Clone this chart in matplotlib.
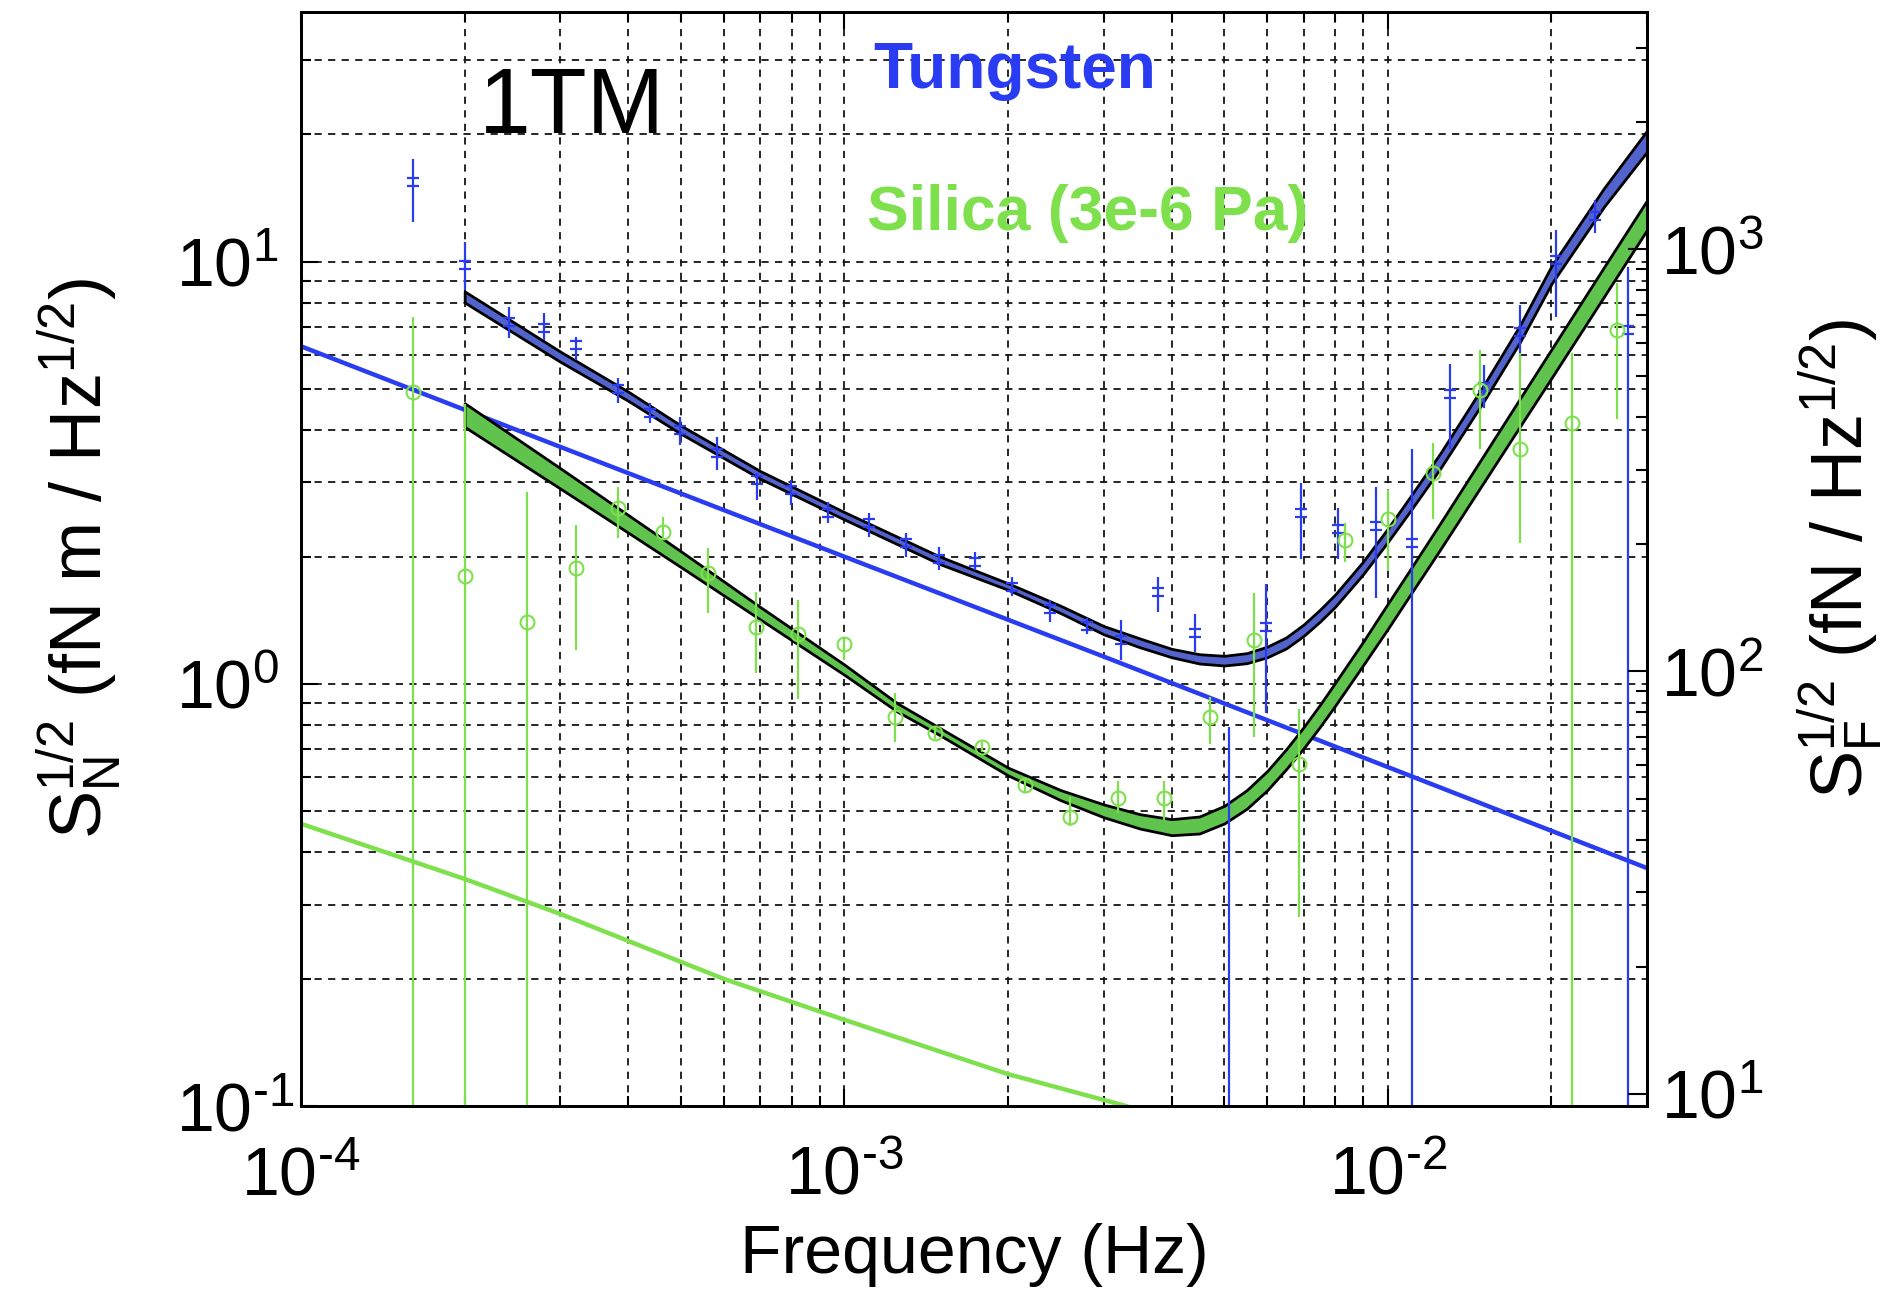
import numpy as np
import matplotlib
matplotlib.use('Agg')
import matplotlib.pyplot as plt
from matplotlib.path import Path
from matplotlib.ticker import LogLocator, NullFormatter, FixedLocator, FuncFormatter

plt.rcParams['font.family'] = ['Liberation Sans', 'DejaVu Sans']
plt.rcParams['mathtext.fontset'] = 'custom'
plt.rcParams['mathtext.rm'] = 'Liberation Sans'
plt.rcParams['mathtext.it'] = 'Liberation Sans:italic'
plt.rcParams['mathtext.bf'] = 'Liberation Sans:bold'
plt.rcParams['axes.unicode_minus'] = False

# ---- model bands (torque noise, fN m / Hz^1/2) ----
tung_f = [2e-4, 3e-4, 4e-4, 5e-4, 7e-4, 1e-3, 1.5e-3, 2e-3, 2.5e-3, 3e-3,
          3.5e-3, 4e-3, 4.5e-3, 5e-3, 5.5e-3, 6e-3, 6.5e-3, 7e-3, 7.5e-3, 8e-3,
          9e-3, 1e-2, 1.1e-2, 1.25e-2, 1.5e-2, 1.75e-2, 2e-2, 2.5e-2, 3e-2]
tung_hi = [8.50, 6.12, 4.92, 4.09, 3.19, 2.55, 2.0, 1.73, 1.53, 1.37,
           1.28, 1.21, 1.175, 1.165, 1.182, 1.225, 1.288, 1.382, 1.498, 1.628,
           1.946, 2.334, 2.777, 3.523, 5.088, 7.068, 9.76, 14.94, 20.44]
tung_lo = [8.0, 5.79, 4.68, 3.91, 3.06, 2.45, 1.92, 1.67, 1.47, 1.31,
           1.22, 1.156, 1.117, 1.105, 1.119, 1.156, 1.213, 1.299, 1.404, 1.523,
           1.816, 2.169, 2.568, 3.243, 4.662, 6.446, 8.86, 13.5, 18.22]

sil_f = [2e-4, 3e-4, 4e-4, 5e-4, 7e-4, 1e-3, 1.25e-3, 1.5e-3, 2e-3, 2.5e-3,
         3e-3, 3.5e-3, 4e-3, 4.5e-3, 5e-3, 5.5e-3, 6e-3, 6.5e-3, 7e-3, 7.5e-3,
         8e-3, 9e-3, 1e-2, 1.1e-2, 1.25e-2, 1.5e-2, 1.75e-2, 2e-2, 2.5e-2, 3e-2]
sil_hi = [4.62, 3.24, 2.51, 2.06, 1.52, 1.11, 0.90, 0.785, 0.633, 0.560,
          0.518, 0.491, 0.478, 0.485, 0.514, 0.560, 0.622, 0.700, 0.790, 0.892,
          1.006, 1.257, 1.549, 1.868, 2.406, 3.472, 4.737, 6.197, 9.71, 13.98]
sil_lo = [4.06, 2.90, 2.28, 1.89, 1.42, 1.05, 0.86, 0.755, 0.607, 0.530,
          0.483, 0.454, 0.438, 0.442, 0.467, 0.506, 0.560, 0.628, 0.704, 0.791,
          0.888, 1.106, 1.350, 1.627, 2.086, 2.996, 4.069, 5.299, 8.27, 11.9]

# ---- thin lines ----
tline_f = [1e-4, 3e-4, 1e-3, 3e-3, 1e-2, 3e-2]
tline_v = [6.3, 3.64, 2.0, 1.16, 0.635, 0.366]
sline_f = [1e-4, 2e-4, 3e-4, 6e-4, 1e-3, 2e-3, 3.3e-3]
sline_v = [0.466, 0.345, 0.285, 0.2, 0.16, 0.119, 0.1]

# ---- measured points (Tungsten) ----
tung_pf = [1.61e-4, 2.0e-4, 2.41e-4, 2.80e-4, 3.21e-4, 3.83e-4, 4.39e-4, 4.98e-4,
           5.83e-4, 6.89e-4, 7.98e-4, 9.33e-4, 1.11e-3, 1.30e-3, 1.49e-3, 1.74e-3,
           2.03e-3, 2.39e-3, 2.79e-3, 3.23e-3, 3.78e-3, 4.41e-3, 5.1e-3, 5.96e-3,
           6.93e-3, 8.09e-3, 9.51e-3, 1.11e-2, 1.30e-2, 1.50e-2, 1.75e-2, 2.04e-2,
           2.41e-2, 2.77e-2]
tung_pv = [15.4, 9.84, 7.2, 6.98, 6.36, 4.98, 4.39, 4.0, 3.52, 3.04, 2.88, 2.54,
           2.41, 2.16, 1.97, 1.94, 1.70, 1.50, 1.37, 1.27, 1.65, 1.32, 0.05, 1.36,
           2.54, 2.32, 2.36, 2.16, 4.86, 5.06, 6.8, 10.1, 12.85, 6.9]
tung_plo = [12.4, 8.58, 6.6, 6.53, 5.86, 4.63, 4.15, 3.68, 3.21, 2.73, 2.65, 2.41,
            2.23, 2.0, 1.86, 1.86, 1.61, 1.40, 1.31, 1.14, 1.48, 1.19, 0.01, 0.853,
            1.97, 1.97, 1.60, 0.01, 3.6, 4.5, 5.9, 7.41, 11.7, 0.01]
tung_phi = [17.5, 11.15, 7.82, 7.57, 6.64, 5.31, 4.63, 4.29, 3.85, 3.16, 3.04, 2.69,
            2.54, 2.28, 2.11, 2.05, 1.79, 1.58, 1.43, 1.42, 1.79, 1.46, 0.79, 1.72,
            2.99, 2.61, 2.93, 3.59, 5.73, 5.7, 7.9, 11.9, 14.0, 9.73]

# ---- measured points (Silica) ----
sil_pf = [1.61e-4, 2.0e-4, 2.61e-4, 3.21e-4, 3.83e-4, 4.64e-4, 5.61e-4, 6.86e-4,
          8.22e-4, 1.0e-3, 1.24e-3, 1.47e-3, 1.79e-3, 2.15e-3, 2.6e-3, 3.19e-3,
          3.88e-3, 4.7e-3, 5.66e-3, 6.86e-3, 8.33e-3, 1.0e-2, 1.21e-2, 1.48e-2,
          1.75e-2, 2.18e-2, 2.64e-2]
sil_pv = [4.9, 1.8, 1.40, 1.88, 2.61, 2.29, 1.83, 1.36, 1.31, 1.24, 0.835, 0.765,
          0.71, 0.575, 0.484, 0.537, 0.537, 0.835, 1.27, 0.646, 2.19, 2.45, 3.16,
          4.97, 3.6, 4.15, 6.9]
sil_plo = [0.01, 0.01, 0.01, 1.2, 2.22, 2.19, 1.47, 1.06, 0.92, 1.14, 0.73, 0.74,
           0.69, 0.555, 0.46, 0.495, 0.475, 0.72, 0.75, 0.28, 1.94, 1.86, 2.45,
           3.59, 2.16, 0.01, 4.23]
sil_phi = [7.41, 4.6, 2.85, 2.38, 2.93, 2.48, 2.1, 1.65, 1.58, 1.28, 0.95, 0.79,
           0.73, 0.595, 0.54, 0.59, 0.59, 0.93, 1.64, 0.87, 2.41, 2.88, 3.72,
           6.18, 6.08, 6.08, 8.92]

arm_factor = 93.5   # S_F = S_N / lever arm

BLUE = '#2a3cf2'
GREEN = '#7de04c'


def pow10(v, pos):
    e = int(round(np.log10(v)))
    return r'$\mathregular{10^{\text{%d}}}$' % e


fig = plt.figure(figsize=(19.02, 12.93), dpi=100)
ax = fig.add_axes([0.1583, 0.1446, 0.7077, 0.8461])
ax.set_xscale('log')
ax.set_yscale('log')
ax.set_xlim(1e-4, 3e-2)
ax.set_ylim(0.1, 39)

ax.grid(True, which='both', color='#151515', linestyle=(0, (4, 3.5)), linewidth=1.3)
ax.set_axisbelow(True)

ax.plot(tline_f, tline_v, color=BLUE, lw=3.2, zorder=2)
ax.plot(sline_f, sline_v, color=GREEN, lw=3.2, zorder=2)

ax.fill_between(tung_f, tung_lo, tung_hi, facecolor='#5363cc',
                edgecolor='black', linewidth=2.0, zorder=3)
ax.fill_between(sil_f, sil_lo, sil_hi, facecolor='#5fc34e',
                edgecolor='black', linewidth=2.0, zorder=3)

dbl = Path([(-0.5, 0.28), (0.5, 0.28), (-0.5, -0.28), (0.5, -0.28)],
           [Path.MOVETO, Path.LINETO, Path.MOVETO, Path.LINETO])

ax.vlines(tung_pf, tung_plo, tung_phi, color=BLUE, lw=1.6, zorder=4)
ax.plot(tung_pf, tung_pv, ls='none', marker=dbl, ms=9, mew=1.6,
        color=BLUE, zorder=4)
ax.vlines(sil_pf, sil_plo, sil_phi, color=GREEN, lw=1.6, zorder=4)
ax.plot(sil_pf, sil_pv, ls='none', marker='o', ms=10, mew=1.5,
        mfc='none', mec=GREEN, zorder=4)

for s in ax.spines.values():
    s.set_linewidth(2)
ax.xaxis.set_major_locator(FixedLocator([1e-4, 1e-3, 1e-2]))
ax.yaxis.set_major_locator(FixedLocator([0.1, 1, 10]))
ax.xaxis.set_major_formatter(FuncFormatter(pow10))
ax.yaxis.set_major_formatter(FuncFormatter(pow10))
ax.tick_params(which='both', direction='in', top=True, right=False,
               labelsize=49, width=1.5)
ax.tick_params(which='major', length=12)
ax.tick_params(which='minor', length=7)
ax.tick_params(axis='x', pad=28)
ax.tick_params(axis='y', pad=90)
for t in ax.get_yticklabels():
    t.set_horizontalalignment('left')
ax.xaxis.set_minor_formatter(NullFormatter())
ax.yaxis.set_minor_formatter(NullFormatter())
ax.set_xlabel('Frequency (Hz)', fontsize=49, labelpad=10)
ax.set_ylabel(r'$\mathregular{S_N^{1/2}}$ (fN m / Hz$^{\mathregular{1/2}}$)',
              fontsize=52)
ax.yaxis.set_label_coords(-0.131, 0.5)

ax2 = ax.twinx()
ax2.set_yscale('log')
ax2.set_ylim(0.1 * arm_factor, 39 * arm_factor)
ax2.yaxis.set_major_locator(FixedLocator([10, 100, 1000]))
ax2.yaxis.set_major_formatter(FuncFormatter(pow10))
ax2.yaxis.set_minor_locator(LogLocator(base=10, subs=range(2, 10)))
ax2.yaxis.set_minor_formatter(NullFormatter())
ax2.tick_params(which='both', direction='in', labelsize=49, width=1.5, pad=10)
ax2.tick_params(which='major', length=14)
ax2.tick_params(which='minor', length=8)
ax2.set_ylabel(r'$\mathregular{S_F^{1/2}}$ (fN / Hz$^{\mathregular{1/2}}$)',
               fontsize=52, labelpad=24)
for s in ax2.spines.values():
    s.set_linewidth(2)

ax.text(0.132, 0.889, '1TM', transform=ax.transAxes, fontsize=67,
        ha='left', va='baseline')
ax.text(0.425, 0.931, 'Tungsten', transform=ax.transAxes, fontsize=46,
        fontweight='bold', color=BLUE, ha='left', va='baseline')
ax.text(0.4205, 0.8007, 'Silica (3e-6 Pa)', transform=ax.transAxes, fontsize=45,
        fontweight='bold', color=GREEN, ha='left', va='baseline')

fig.savefig('out.png', dpi=100)
